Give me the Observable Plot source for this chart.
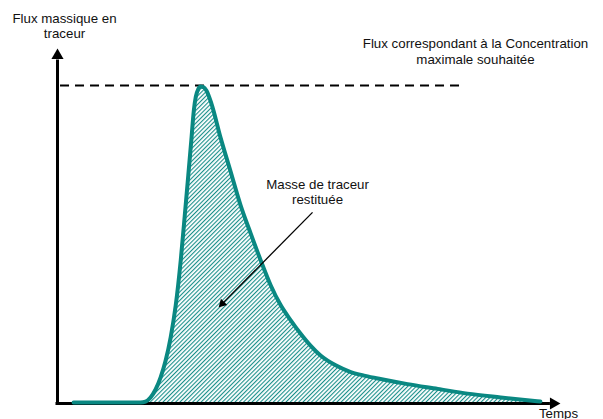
<!DOCTYPE html>
<html><head><meta charset="utf-8">
<script src="https://cdn.jsdelivr.net/npm/d3@7"></script>
<script src="https://cdn.jsdelivr.net/npm/@observablehq/plot@0.6"></script>
<style>body{margin:0;background:#fff}</style>
</head><body><div id="chart"></div>
<script>
// Restitution curve (arbitrary time units 0-100, flux in % of max desired)
const time = [3.2, 16.5, 17.5, 18.5, 19.5, 20.5, 21.5, 22.5, 23.5, 24.5, 25.3, 26.0, 26.6, 27.1, 27.5, 28.0, 28.4, 29.0, 29.6, 30.6, 32.4, 34.4, 36.4, 38.4, 40.4, 42.4, 44.3, 46.3, 48.3, 50.3, 52.3, 55.3, 58.3, 61.2, 64.2, 69.6, 75.6, 81.5, 88.1, 96.0];
const flux = [0.3, 0.3, 0.6, 1.9, 4.4, 8.2, 13.5, 20.8, 30.8, 45.0, 59.1, 71.7, 82.7, 92.1, 96.5, 98.9, 99.7, 99.5, 98.4, 94.3, 83.7, 73.0, 62.3, 53.5, 45.0, 37.1, 31.1, 26.3, 22.0, 18.2, 15.1, 12.0, 9.9, 8.7, 7.7, 6.1, 4.6, 3.1, 1.9, 0.6];
const maxFlux = 100;          // flux corresponding to the max desired concentration
const dashEnd = 81.1;
const fillStartTime = 16.5;

// Text annotations
const labelText = ["Flux massique en\ntraceur", "Flux correspondant à la Concentration\nmaximale souhaitée", "Masse de traceur\nrestituée", "Temps"];
const labelT = [1.4, 83.1, 51.7, 99.6];
const labelF = [118.9, 111.0, 66.7, -2.8];

// Pointer from "Masse de traceur restituée" into the area
const pointerFrom = {t: 50.7, f: 60.1};
const pointerHead = {t: 32.76, f: 31.4};

const curveData = time.map((t, i) => ({t, f: flux[i]}));
const areaData = curveData.filter(d => d.t >= fillStartTime);
const labels = labelText.map((text, i) => ({text, t: labelT[i], f: labelF[i]}));

const teal = "#0a8882";
const font = "'Liberation Sans', Arial, sans-serif";

const svg = Plot.plot({
  width: 603,
  height: 419,
  margin: 0,
  style: {fontFamily: font, background: "white", overflow: "visible"},
  x: {domain: [0, 100], range: [57, 560], axis: null},
  y: {domain: [0, 100], range: [403, 85], axis: null},
  marks: [
    Plot.areaY(areaData, {x: "t", y: "f", fill: "url(#hatch)", curve: "monotone-x"}),
    // axes
    Plot.ruleX([0], {y1: -0.5, y2: 108, stroke: "black", strokeWidth: 3}),
    Plot.ruleY([0], {x1: -0.3, x2: 98, stroke: "black", strokeWidth: 3}),
    Plot.dot([{t: 0, f: 109.4}], {x: "t", y: "f", symbol: "triangle", r: 4.5, fill: "black", stroke: "none"}),
    Plot.dot([{t: 98.6, f: 0}], {x: "t", y: "f", symbol: "triangle", r: 4.5, fill: "black", stroke: "none", rotate: 90}),
    // dashed max line
    Plot.ruleY([maxFlux], {x1: 0.6, x2: dashEnd, stroke: "black", strokeWidth: 2, strokeDasharray: "9,6"}),
    // curve
    Plot.line(curveData, {x: "t", y: "f", stroke: teal, strokeWidth: 4, curve: "monotone-x"}),
    // pointer
    Plot.link([{a: pointerFrom, b: pointerHead}], {x1: d => d.a.t, y1: d => d.a.f, x2: d => d.b.t, y2: d => d.b.f, stroke: "black", strokeWidth: 1.3}),
    Plot.dot([pointerHead], {x: "t", y: "f", symbol: "triangle", r: 3.3, fill: "black", stroke: "none", rotate: 225}),
    // labels
    Plot.text(labels, {x: "t", y: "f", text: "text", fontSize: 13.3, lineHeight: 1.2, lineAnchor: "middle", textAnchor: "middle", fill: "#111", fontFamily: font})
  ]
});

const defs = d3.select(svg).insert("defs", ":first-child");
const pat = defs.append("pattern").attr("id", "hatch").attr("patternUnits", "userSpaceOnUse")
  .attr("width", 3).attr("height", 3).attr("patternTransform", "rotate(45)");
pat.append("rect").attr("width", 3).attr("height", 3).attr("fill", "white");
pat.append("rect").attr("width", 1.1).attr("height", 3).attr("fill", "#1a8f8a");

document.getElementById("chart").appendChild(svg);
</script>
</body></html>
